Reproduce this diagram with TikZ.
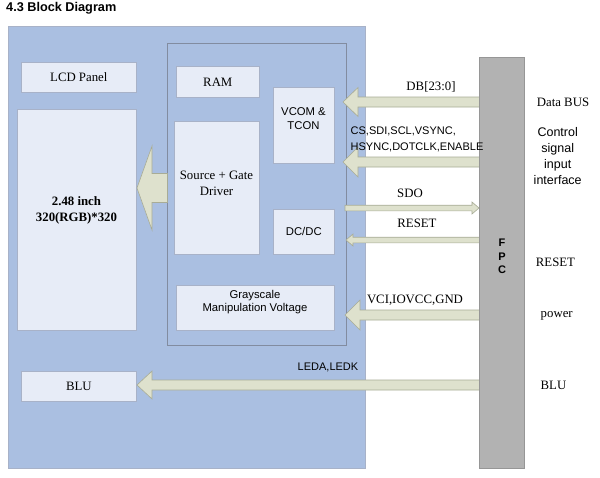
\documentclass[tikz,border=0pt]{standalone}
\usepackage{fontspec}
\setmainfont{Liberation Serif}
\setsansfont{Liberation Sans}
\definecolor{bgblue}{RGB}{170,191,225}
\definecolor{bxfill}{RGB}{231,236,247}
\definecolor{bxline}{RGB}{168,178,200}
\definecolor{arfill}{RGB}{222,225,205}
\definecolor{arline}{RGB}{168,172,150}
\definecolor{fpcgray}{RGB}{178,178,178}
\newcommand\blockarr[6]{\draw[barr] (#1,{#3-(#4)}) -- ({#2+(#6)},{#3-(#4)}) -- ({#2+(#6)},{#3-(#5)}) -- (#2,#3) -- ({#2+(#6)},{#3+(#5)}) -- ({#2+(#6)},{#3+(#4)}) -- (#1,{#3+(#4)}) -- cycle;}
\begin{document}
\begin{tikzpicture}[x=1pt,y=-1pt,
  blk/.style={draw=bxline, fill=bxfill, line width=0.6pt, anchor=north west, inner sep=0pt, align=center},
  serif/.style={font=\fontsize{12.8}{15}\selectfont},
  bserif/.style={font=\bfseries\fontsize{12.8}{16}\selectfont},
  sans/.style={font=\sffamily\fontsize{11.3}{13}\selectfont},
  barr/.style={draw=arline, fill=arfill, line width=0.6pt},
  lbl/.style={inner sep=0pt, align=center}]
\useasboundingbox (0,0) rectangle (600,477);
\fill[white] (0,0) rectangle (600,477);
% title
\node[lbl, anchor=west, font=\sffamily\bfseries\fontsize{12.7}{15}\selectfont] (title) at (6,8) {4.3 Block Diagram};
% main and chip
\node[draw=bxline, fill=bgblue, line width=0.6pt, anchor=north west, minimum width=357, minimum height=442, inner sep=0pt] (main) at (8,26) {};
\node[draw={rgb,255:red,130;green,140;blue,160}, fill=bgblue, line width=0.6pt, anchor=north west, minimum width=179, minimum height=302, inner sep=0pt] (chip) at (167,43) {};
% boxes
\node[blk, serif, minimum width=115, minimum height=30] (lcd) at (21,62) {LCD Panel};
\node[blk, minimum width=119, minimum height=221] (panel) at (17,109) {};
\node[lbl, bserif] (paneltext) at (76.5,210) {2.48 inch\\320(RGB)*320};
\node[blk, serif, minimum width=115, minimum height=30] (blu) at (21,371) {BLU};
\node[blk, serif, minimum width=83, minimum height=31] (ram) at (176,66) {RAM};
\node[blk, minimum width=61, minimum height=76] (vcom) at (273,87) {};
\node[lbl, sans, font=\sffamily\fontsize{11.3}{14}\selectfont] (vcomtext) at (303.5,119) {VCOM \&\\TCON};
\node[blk, minimum width=85, minimum height=133] (sgd) at (174,121) {};
\node[lbl, serif, font=\fontsize{12.8}{16}\selectfont] (sgdtext) at (216.5,183) {Source + Gate\\Driver};
\node[blk, sans, minimum width=61, minimum height=45] (dcdc) at (273,209) {DC/DC};
\node[blk, minimum width=158, minimum height=45] (gray) at (176,285) {};
\node[lbl, sans] (graytext) at (255,302) {Grayscale\\Manipulation Voltage};
% arrows
\blockarr{481}{343}{102}{5}{14.5}{15}
\blockarr{481}{343}{162}{5}{15}{15}
\blockarr{345}{479}{208}{2.8}{6}{-7}
\blockarr{481}{346}{240}{2.8}{6}{7}
\blockarr{481}{345}{315}{5}{15}{15}
\blockarr{481}{137}{385}{5}{14}{15}
\blockarr{167.5}{137}{188}{14.5}{42}{15}
% FPC
\node[draw={rgb,255:red,150;green,150;blue,150}, fill=fpcgray, line width=0.6pt, anchor=north west, minimum width=45, minimum height=411, inner sep=0pt] (fpc) at (479,57) {};
\node[lbl, font=\sffamily\bfseries\fontsize{11}{13.5}\selectfont] (fpctext) at (502,256.5) {F\\P\\C};
% signal labels
\node[lbl, serif] (db) at (431,87) {DB[23:0]};
\node[lbl, sans, anchor=west, align=left, font=\sffamily\fontsize{11}{15.6}\selectfont] (cs) at (350.5,139.5) {CS,SDI,SCL,VSYNC,\\HSYNC,DOTCLK,ENABLE};
\node[lbl, serif] (sdo) at (410,193) {SDO};
\node[lbl, serif] (reset) at (417,223) {RESET};
\node[lbl, serif] (vci) at (415,300) {VCI,IOVCC,GND};
\node[lbl, sans, font=\sffamily\fontsize{11}{13}\selectfont] (led) at (328,367) {LEDA,LEDK};
% right labels
\node[lbl, serif] (databus) at (563,102) {Data BUS};
\node[lbl, font=\sffamily\fontsize{12.5}{16.2}\selectfont] (ctrl) at (557.7,156) {Control\\signal\\input\\interface};
\node[lbl, serif] (resetr) at (555.5,262) {RESET};
\node[lbl, serif] (power) at (556.7,316) {power};
\node[lbl, serif] (blur) at (553.5,385) {BLU};
\end{tikzpicture}
\end{document}
